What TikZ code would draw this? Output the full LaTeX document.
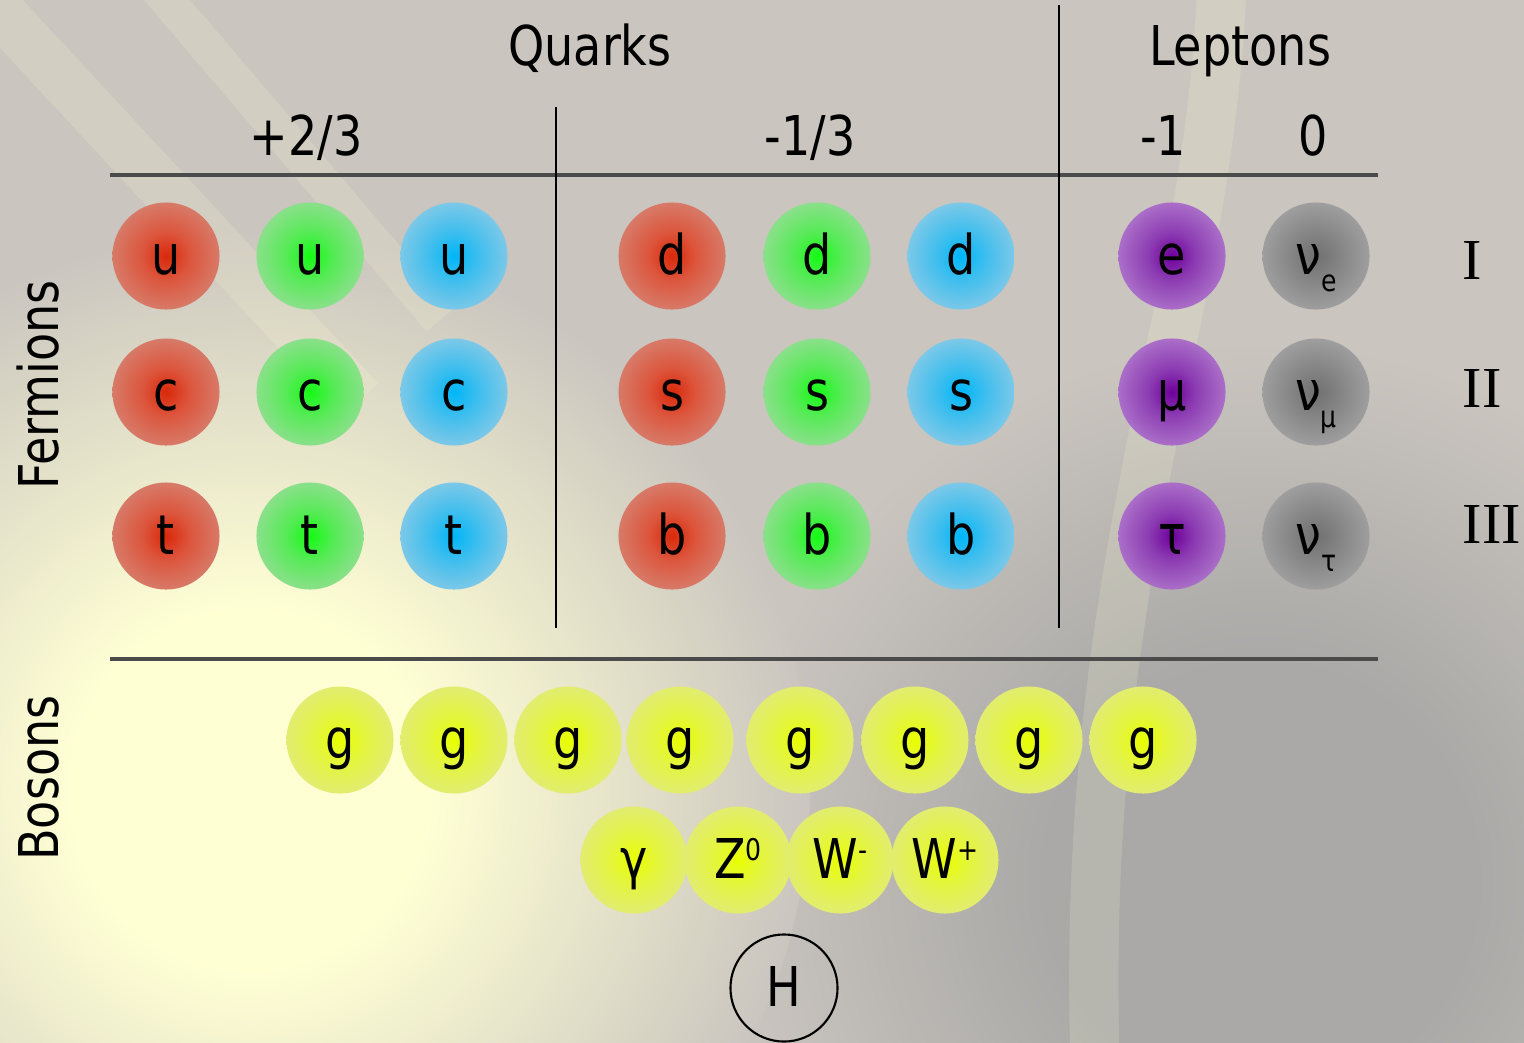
\documentclass[tikz,border=0pt]{standalone}
\usepackage{fontspec}
\setmainfont{DejaVu Sans}[FakeStretch=0.84]
\newfontfamily\numfont{Liberation Serif}

% colours
\definecolor{bgbase}{RGB}{202,197,191}
\definecolor{bgdark}{RGB}{170,169,167}
\definecolor{bgglow}{RGB}{255,255,212}
\definecolor{linegray}{RGB}{75,75,75}

% particle shadings (centre -> rim, rim at 25bp)
\pgfdeclareradialshading{qred}{\pgfpoint{0bp}{0bp}}{color(0bp)=(rgb,255:red,218;green,40;blue,10); color(11bp)=(rgb,255:red,220;green,85;blue,60); color(25bp)=(rgb,255:red,215;green,122;blue,104); color(50bp)=(rgb,255:red,215;green,122;blue,104)}
\pgfdeclareradialshading{qgreen}{\pgfpoint{0bp}{0bp}}{color(0bp)=(rgb,255:red,20;green,250;blue,20); color(11bp)=(rgb,255:red,85;green,235;blue,85); color(25bp)=(rgb,255:red,138;green,224;blue,138); color(50bp)=(rgb,255:red,138;green,224;blue,138)}
\pgfdeclareradialshading{qblue}{\pgfpoint{0bp}{0bp}}{color(0bp)=(rgb,255:red,0;green,182;blue,248); color(11bp)=(rgb,255:red,60;green,190;blue,238); color(25bp)=(rgb,255:red,124;green,200;blue,232); color(50bp)=(rgb,255:red,124;green,200;blue,232)}
\pgfdeclareradialshading{lpurple}{\pgfpoint{0bp}{0bp}}{color(0bp)=(rgb,255:red,110;green,0;blue,155); color(11bp)=(rgb,255:red,140;green,60;blue,178); color(25bp)=(rgb,255:red,170;green,110;blue,200); color(50bp)=(rgb,255:red,170;green,110;blue,200)}
\pgfdeclareradialshading{lgray}{\pgfpoint{0bp}{0bp}}{color(0bp)=(rgb,255:red,112;green,112;blue,112); color(11bp)=(rgb,255:red,132;green,132;blue,132); color(25bp)=(rgb,255:red,158;green,158;blue,158); color(50bp)=(rgb,255:red,158;green,158;blue,158)}
\pgfdeclareradialshading{byellow}{\pgfpoint{0bp}{0bp}}{color(0bp)=(rgb,255:red,232;green,255;blue,0); color(11bp)=(rgb,255:red,228;green,245;blue,60); color(25bp)=(rgb,255:red,226;green,236;blue,112); color(50bp)=(rgb,255:red,226;green,236;blue,112)}
% background glows
\pgfdeclareradialshading{glowbg}{\pgfpoint{0bp}{0bp}}{color(0bp)=(bgglow); color(8bp)=(bgglow); color(25bp)=(bgbase); color(50bp)=(bgbase)}
\pgfdeclareradialshading{darkbg}{\pgfpoint{0bp}{0bp}}{color(0bp)=(bgdark); color(10bp)=(bgdark); color(25bp)=(bgbase); color(50bp)=(bgbase)}

\newcommand\bigtxt{\fontsize{15.6pt}{18pt}\selectfont}
\newcommand\uptxt[1]{\raisebox{5pt}{\fontsize{8.5pt}{9pt}\selectfont #1}}
\newcommand\lowtxt[1]{\raisebox{-5pt}{\fontsize{8.5pt}{9pt}\selectfont #1}}

\tikzset{
  head/.style={font=\bigtxt, inner sep=0pt, anchor=base},
  ball/.style={circle, minimum size=1.07cm, inner sep=0pt,
    text height=0.46cm, text depth=0.10cm, font=\bigtxt},
  redq/.style={ball, shading=qred},
  greenq/.style={ball, shading=qgreen},
  blueq/.style={ball, shading=qblue},
  lepton/.style={ball, shading=lpurple},
  neutrino/.style={ball, shading=lgray},
  boson/.style={ball, shading=byellow},
  gen/.style={font=\numfont\fontsize{16.5pt}{18pt}\selectfont, inner sep=0pt, anchor=base west},
  streak/.style={bgglow, opacity=0.16}
}

\begin{document}
\begin{tikzpicture}[x=0.01cm, y=-0.01cm]
  \useasboundingbox (0,0) rectangle (1524,1042);
  % background
  \fill[bgbase] (0,0) rectangle (1524,1042);
  \begin{scope}
    \clip (0,0) rectangle (1524,1042);
    \shade[shading=darkbg] (1260,880) circle[radius=540];
    \shade[shading=glowbg] (250,790) circle[radius=560];
    \draw[streak, line width=14pt] (-20,-10) -- (360,400);
    \draw[streak, line width=10pt] (150,-20) -- (440,320);
    \draw[streak, line width=14pt] (1222,-20) .. controls (1210,320) and (1080,560) .. (1095,1060);
  \end{scope}

  % table rules
  \draw[linegray, line width=1.2pt] (110,175) -- (1378,175);
  \draw[linegray, line width=1.2pt] (110,659) -- (1378,659);
  \draw[line width=0.5pt] (556,107) -- (556,628);
  \draw[line width=0.5pt] (1059,5) -- (1059,628);

  % headings
  \node[head] (quarks) at (590,65) {Quarks};
  \node[head] (leptons) at (1240,65) {Leptons};
  \node[head] (qup) at (306,155) {+2/3};
  \node[head] (qdown) at (810,155) {-1/3};
  \node[head] (lcharged) at (1163,155) {-1};
  \node[head] (lneutral) at (1313,155) {0};
  \node[head, rotate=90] (fermions) at (58,385) {Fermions};
  \node[head, rotate=90] (bosons) at (58,778) {Bosons};

  % quarks
  \foreach \fl/\y in {u/256, c/392, t/536} {
    \node[redq] (\fl1) at (166,\y) {\fl};
    \node[greenq] (\fl2) at (310,\y) {\fl};
    \node[blueq] (\fl3) at (454,\y) {\fl};
  }
  \foreach \fl/\y in {d/256, s/392, b/536} {
    \node[redq] (\fl1) at (672,\y) {\fl};
    \node[greenq] (\fl2) at (817,\y) {\fl};
    \node[blueq] (\fl3) at (961,\y) {\fl};
  }

  % leptons
  \node[lepton] (elec) at (1172,256) {e};
  \node[lepton] (muon) at (1172,392) {μ};
  \node[lepton] (tau) at (1172,536) {τ};
  \node[neutrino] (nue) at (1316,256) {ν\lowtxt{e}};
  \node[neutrino] (numu) at (1316,392) {ν\lowtxt{μ}};
  \node[neutrino] (nutau) at (1316,536) {ν\lowtxt{τ}};

  % generations
  \node[gen] (genI) at (1462,279) {I};
  \node[gen] (genII) at (1462,407) {II};
  \node[gen] (genIII) at (1462,543) {III};

  % gauge bosons
  \foreach \i/\x in {1/340, 2/454, 3/568, 4/680, 5/800, 6/915, 7/1029, 8/1143}
    \node[boson] (g\i) at (\x,740) {g};
  \node[boson] (photon) at (634,860) {γ};
  \node[boson] (zboson) at (738,860) {Z\uptxt{0}};
  \node[boson] (wminus) at (840,860) {W\uptxt{-}};
  \node[boson] (wplus) at (945,860) {W\uptxt{+}};

  % higgs
  \node[ball, draw, line width=0.6pt] (higgs) at (784,988) {H};
\end{tikzpicture}
\end{document}
